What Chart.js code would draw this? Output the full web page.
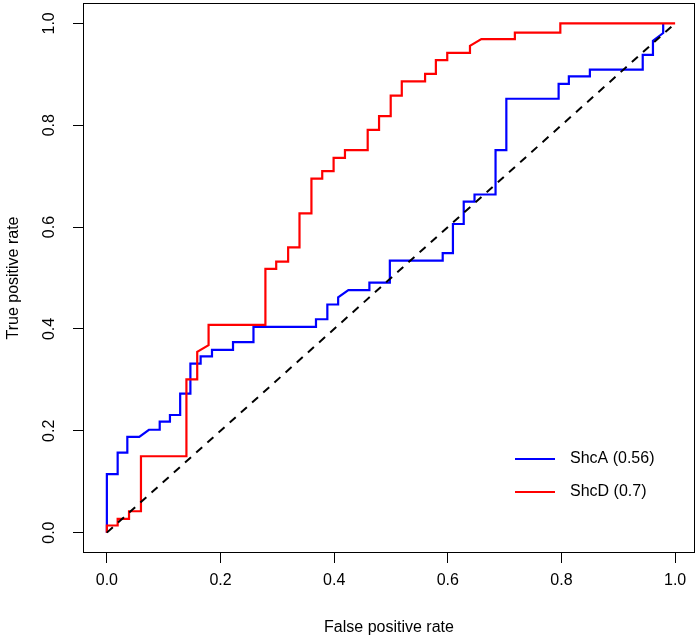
<!DOCTYPE html>
<html>
<head>
<meta charset="utf-8">
<script src="https://cdn.jsdelivr.net/npm/chart.js@4.4.1/dist/chart.umd.min.js"></script>
<style>
  html, body { margin: 0; padding: 0; background: #ffffff; }
  #wrap { width: 700px; height: 639px; }
</style>
</head>
<body>
<div id="wrap"><canvas id="c" width="700" height="639"></canvas></div>
<script>
// ---- data ----
const seriesNames = ['ShcA (0.56)', 'ShcD (0.7)'];

const shcA_fpr = [0, 0, 0.019, 0.019, 0.036, 0.036, 0.057, 0.074, 0.093, 0.093, 0.111, 0.111, 0.129, 0.129, 0.147, 0.147, 0.165, 0.165, 0.185, 0.185, 0.222, 0.222, 0.258, 0.258, 0.368, 0.368, 0.388, 0.388, 0.407, 0.407, 0.425, 0.462, 0.462, 0.498, 0.498, 0.591, 0.591, 0.609, 0.609, 0.628, 0.628, 0.647, 0.647, 0.684, 0.684, 0.703, 0.703, 0.795, 0.795, 0.813, 0.813, 0.850, 0.850, 0.943, 0.943, 0.961, 0.961, 0.979, 0.979];
const shcA_tpr = [0, 0.115, 0.115, 0.157, 0.157, 0.188, 0.188, 0.202, 0.202, 0.218, 0.218, 0.231, 0.231, 0.273, 0.273, 0.332, 0.332, 0.346, 0.346, 0.359, 0.359, 0.374, 0.374, 0.404, 0.404, 0.419, 0.419, 0.448, 0.448, 0.462, 0.476, 0.476, 0.491, 0.491, 0.534, 0.534, 0.549, 0.549, 0.606, 0.606, 0.650, 0.650, 0.664, 0.664, 0.751, 0.751, 0.852, 0.852, 0.881, 0.881, 0.896, 0.896, 0.909, 0.909, 0.938, 0.938, 0.966, 0.981, 1.0];

const shcD_fpr = [0, 0, 0.019, 0.019, 0.039, 0.039, 0.060, 0.060, 0.140, 0.140, 0.159, 0.159, 0.179, 0.179, 0.279, 0.279, 0.298, 0.298, 0.319, 0.319, 0.339, 0.339, 0.360, 0.360, 0.379, 0.379, 0.399, 0.399, 0.419, 0.419, 0.459, 0.459, 0.479, 0.479, 0.4995, 0.4995, 0.519, 0.519, 0.560, 0.560, 0.579, 0.579, 0.599, 0.599, 0.639, 0.639, 0.659, 0.718, 0.718, 0.798, 0.798, 1.0];
const shcD_tpr = [0, 0.014, 0.014, 0.027, 0.027, 0.042, 0.042, 0.150, 0.150, 0.301, 0.301, 0.355, 0.368, 0.408, 0.408, 0.518, 0.518, 0.532, 0.532, 0.560, 0.560, 0.627, 0.627, 0.695, 0.695, 0.710, 0.710, 0.736, 0.736, 0.751, 0.751, 0.791, 0.791, 0.818, 0.818, 0.858, 0.858, 0.886, 0.886, 0.901, 0.901, 0.928, 0.928, 0.942, 0.942, 0.956, 0.969, 0.969, 0.982, 0.982, 1.0, 1.0];

const chance_fpr = [0, 1];
const chance_tpr = [0, 1];

const tickValues = [0, 0.2, 0.4, 0.6, 0.8, 1.0];
const tickLabels = ['0.0', '0.2', '0.4', '0.6', '0.8', '1.0'];

const xTitle = 'False positive rate';
const yTitle = 'True positive rate';

// ---- helpers ----
const FONT = '"Liberation Sans", Arial, Helvetica, sans-serif';
const toPts = (xs, ys) => xs.map((x, i) => ({ x: x, y: ys[i] }));

const boxPlugin = {
  id: 'rbox',
  afterDraw(chart) {
    const { ctx, chartArea: a } = chart;
    ctx.save();
    ctx.strokeStyle = '#000';
    ctx.lineWidth = 1;
    ctx.strokeRect(Math.round(a.left) + 0.5, Math.round(a.top) + 0.5,
                   Math.round(a.right - a.left) - 1, Math.round(a.bottom - a.top) - 1);
    // y tick labels, rotated as in R
    const ys = chart.scales.y;
    ctx.fillStyle = '#000';
    ctx.font = '16px ' + FONT;
    ctx.textAlign = 'center';
    ctx.textBaseline = 'middle';
    tickValues.forEach((v, i) => {
      const py = ys.getPixelForValue(v);
      ctx.save();
      ctx.translate(a.left - 33, py);
      ctx.rotate(-Math.PI / 2);
      ctx.fillText(tickLabels[i], 0, 0);
      ctx.restore();
    });
    // legend (in the order of seriesNames)
    const items = seriesNames.map(n => chart.data.datasets.find(d => d.label === n));
    const lx = a.right - 180, ly = a.bottom - 94, gap = 33;
    items.forEach((d, i) => {
      const yy = ly + i * gap;
      ctx.strokeStyle = d.borderColor;
      ctx.lineWidth = 2;
      ctx.setLineDash([]);
      ctx.beginPath();
      ctx.moveTo(lx, yy);
      ctx.lineTo(lx + 40, yy);
      ctx.stroke();
      ctx.fillStyle = '#000';
      ctx.textAlign = 'left';
      ctx.fillText(d.label, lx + 55, yy);
    });
    ctx.restore();
  }
};

const setTicks = s => { s.ticks = tickValues.map(v => ({ value: v })); };

new Chart(document.getElementById('c'), {
  type: 'scatter',
  data: {
    datasets: [
      { label: 'chance', data: toPts(chance_fpr, chance_tpr), showLine: true,
        borderColor: '#000000', borderWidth: 2, borderDash: [8, 7], pointRadius: 0, order: 0 },
      { label: seriesNames[1], data: toPts(shcD_fpr, shcD_tpr), showLine: true,
        borderColor: '#ff0000', borderWidth: 2.2, pointRadius: 0, order: 1 },
      { label: seriesNames[0], data: toPts(shcA_fpr, shcA_tpr), showLine: true,
        borderColor: '#0000ff', borderWidth: 2.2, pointRadius: 0, order: 2 }
    ]
  },
  options: {
    responsive: false,
    animation: false,
    devicePixelRatio: 1,
    layout: { padding: { left: 0, top: 3, right: 5, bottom: 0 } },
    plugins: { legend: { display: false }, tooltip: { enabled: false } },
    scales: {
      x: {
        type: 'linear', min: -0.042, max: 1.035,
        afterBuildTicks: setTicks,
        afterFit: s => { s.height = 86; },
        ticks: { includeBounds: false, padding: 8, color: '#000',
                 font: { family: FONT, size: 16 }, maxRotation: 0,
                 callback: (v, i) => tickLabels[i] },
        grid: { drawOnChartArea: false, drawTicks: true, tickLength: 10, color: '#000', lineWidth: 1 },
        border: { display: false },
        title: { display: true, text: xTitle, color: '#000', font: { family: FONT, size: 16 },
                 padding: { top: 0, bottom: 1.5 } }
      },
      y: {
        type: 'linear', min: -0.04, max: 1.04,
        afterBuildTicks: setTicks,
        afterFit: s => { s.width = 83; },
        ticks: { display: false, includeBounds: false },
        grid: { drawOnChartArea: false, drawTicks: true, tickLength: 10, color: '#000', lineWidth: 1 },
        border: { display: false },
        title: { display: true, text: yTitle, color: '#000', font: { family: FONT, size: 16 },
                 padding: { top: 3.5, bottom: 0 } }
      }
    }
  },
  plugins: [boxPlugin]
});
</script>
</body>
</html>
